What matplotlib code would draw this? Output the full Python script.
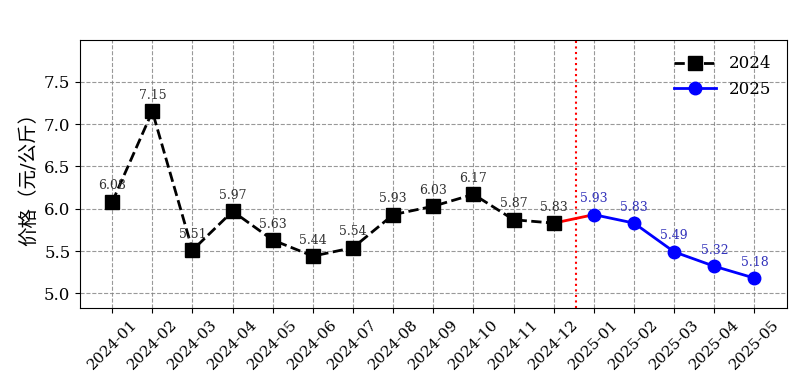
import numpy as np
import matplotlib.pyplot as plt

plt.rcParams['font.family'] = ['DejaVu Serif', 'Noto Sans CJK SC']

# 数据
months_2024 = ['2024-01', '2024-02', '2024-03', '2024-04', '2024-05', '2024-06',
               '2024-07', '2024-08', '2024-09', '2024-10', '2024-11', '2024-12']
prices_2024 = [6.08, 7.15, 5.51, 5.97, 5.63, 5.44, 5.54, 5.93, 6.03, 6.17, 5.87, 5.83]
months_2025 = ['2025-01', '2025-02', '2025-03', '2025-04', '2025-05']
prices_2025 = [5.93, 5.83, 5.49, 5.32, 5.18]

labels = months_2024 + months_2025
x24 = np.arange(len(months_2024))
x25 = np.arange(len(months_2024), len(labels))

fig, ax = plt.subplots(figsize=(8.01, 3.92), dpi=100)

ax.plot(x24, prices_2024, 'k--s', lw=2, markersize=10, label='2024')
ax.plot(x25, prices_2025, '-o', color='blue', lw=2, markersize=9, label='2025')
# 连接线
ax.plot([x24[-1], x25[0]], [prices_2024[-1], prices_2025[0]], color='red', lw=2, zorder=1)
ax.axvline(x24[-1] + 0.55, color='red', ls=':', lw=1.5)

for x, y in zip(x24, prices_2024):
    ax.annotate(f'{y:.2f}', (x, y), textcoords='offset points', xytext=(0, 9),
                ha='center', fontsize=9, color='#333333')
for x, y in zip(x25, prices_2025):
    ax.annotate(f'{y:.2f}', (x, y), textcoords='offset points', xytext=(0, 9),
                ha='center', fontsize=9, color='#3333bb')

ax.set_xticks(np.arange(len(labels)))
ax.set_xticklabels(labels, rotation=45, fontsize=11)
ax.tick_params(axis='y', labelsize=12)
ax.set_xlim(-0.8, len(labels) - 0.2)
ax.set_ylim(4.83, 7.99)
ax.set_yticks([5.0, 5.5, 6.0, 6.5, 7.0, 7.5])
ax.set_ylabel('价格（元/公斤）', fontsize=14)
ax.grid(True, ls='--', color='gray', alpha=0.8)
ax.legend(loc='upper right', frameon=False, fontsize=12, handlelength=2.5)

plt.subplots_adjust(left=0.1, right=0.982, top=0.897, bottom=0.215)
plt.savefig('out.png')
